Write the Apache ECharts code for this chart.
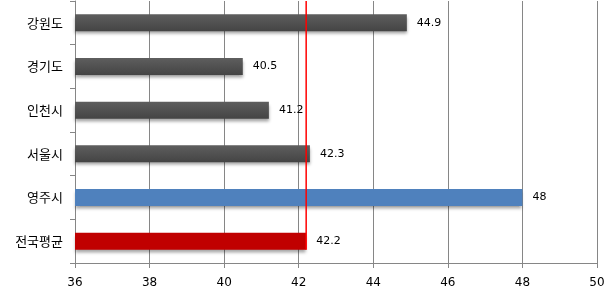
<!DOCTYPE html>
<html><head><meta charset="utf-8">
<script src="https://cdn.jsdelivr.net/npm/echarts@6/dist/echarts.min.js"></script>
<style>html,body{margin:0;padding:0;background:#fff}#c{width:614px;height:298px}</style>
</head><body><div id="c"></div>
<script>
var categories = ['강원도','경기도','인천시','서울시','영주시','전국평균'];
var values = [44.9, 40.5, 41.2, 42.3, 48, 42.2];
var avgValue = 42.2;
var xMin = 36, xMax = 50, xStep = 2;

var grayGrad = new echarts.graphic.LinearGradient(0,0,0,1,[{offset:0,color:'#5e5e5e'},{offset:1,color:'#444444'}]);
var colorsByCat = {'영주시':'#4f81bd','전국평균':'#c00000'};

var chart = echarts.init(document.getElementById('c'));
chart.setOption({
  animation:false,
  grid:{left:75,right:17,top:1,bottom:35},
  xAxis:{type:'value',min:xMin,max:xMax,interval:xStep,
    axisLine:{show:true,lineStyle:{color:'#868686'}},
    axisTick:{show:true,length:5,lineStyle:{color:'#868686'}},
    splitLine:{show:true,lineStyle:{color:'#868686',width:1}},
    axisLabel:{color:'#000',fontSize:12,fontFamily:'DejaVu Sans',margin:14}},
  yAxis:{type:'category',data:categories,inverse:true,
    axisLine:{show:true,lineStyle:{color:'#868686'}},
    axisTick:{show:true,length:5,lineStyle:{color:'#868686'}},
    axisLabel:{color:'#000',fontSize:13,fontFamily:'Noto Sans CJK KR',margin:12}},
  series:[{
    type:'bar',barWidth:'39%',
    data:values.map(function(v,i){
      var c = colorsByCat[categories[i]];
      return {value:v,itemStyle:{color:c?c:grayGrad}};
    }),
    itemStyle:{shadowColor:'rgba(0,0,0,0.35)',shadowBlur:3,shadowOffsetY:3},
    label:{show:true,position:'right',distance:10,color:'#000',fontSize:11,fontFamily:'DejaVu Sans'}
  },{
    type:'custom',
    data:[[avgValue]],
    renderItem:function(params,api){
      var v = api.value(0);
      var band = api.size([0,1])[1];
      var top = api.coord([v, categories[0]]);
      var bot = api.coord([v, categories[categories.length-1]]);
      return {type:'line',shape:{x1:top[0],y1:top[1]-band/2,x2:bot[0],y2:bot[1]+band*0.195},
        style:{stroke:'#ff0000',lineWidth:1.5}};
    },
    z:10
  }]
});
</script></body></html>
